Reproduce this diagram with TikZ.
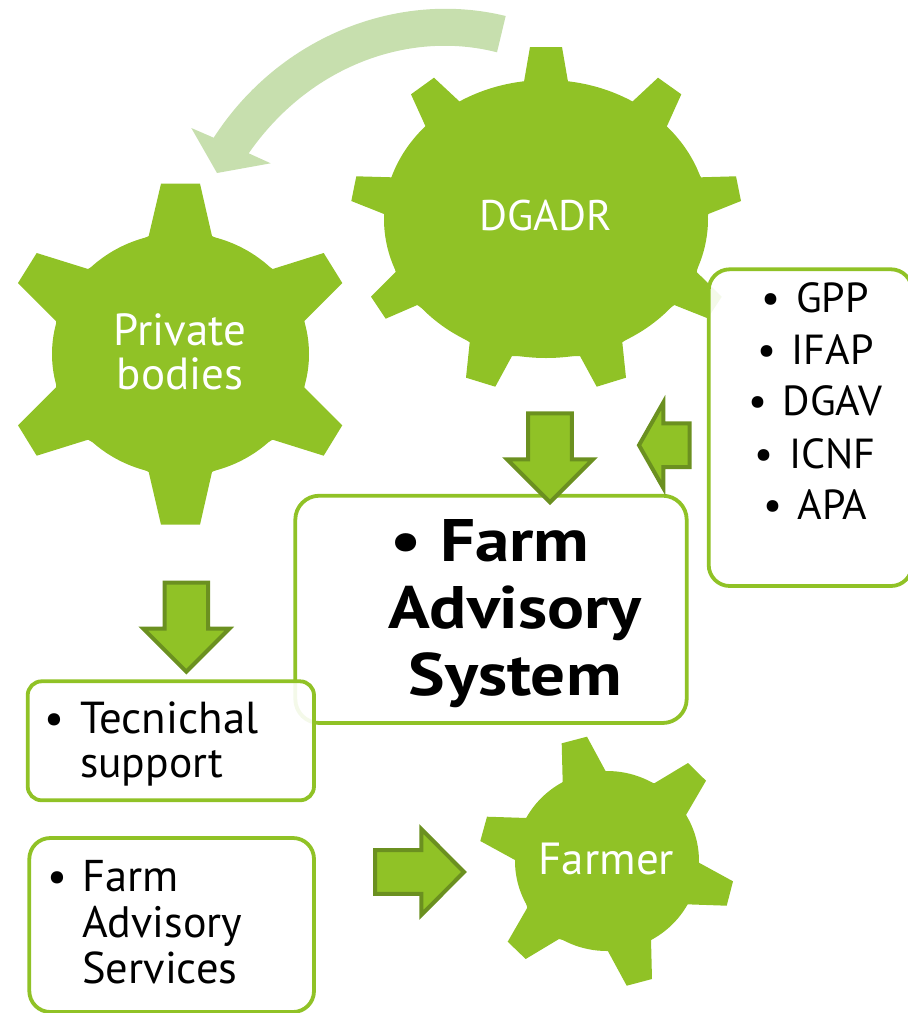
\documentclass[tikz,border=0pt]{standalone}
\usepackage{fontspec}
\setmainfont{PT Sans}
\newfontfamily\wideboldfont[FakeStretch=1.15,BoldFont={PT Sans Bold}]{PT Sans Bold}
\definecolor{leaf}{HTML}{90C226}
\definecolor{leafdark}{HTML}{6B9020}
\definecolor{leafpale}{HTML}{C7DFAE}
\tikzset{
  gearfill/.style={fill=leaf,draw=none},
  blockarrow/.style={fill=leaf,draw=leafdark,line width=4pt,miter limit=12,line join=miter},
  panel/.style={draw=leaf,line width=3.8pt,fill=white,fill opacity=.9,inner sep=0pt,rectangle},
  gearlabel/.style={text=white,align=center,inner sep=0pt},
  boxtext/.style={text=black,inner sep=0pt,align=left,anchor=base west}
}
\newcommand{\bul}{\makebox[0pt][c]{\textbullet}}
\begin{document}
\begin{tikzpicture}[x=1pt,y=-1pt]
\path[use as bounding box] (0,0) rectangle (908,1013);
\clip (0,0) rectangle (908,1013);
% curved arrow
\fill[leafpale] (505.7,16)
  .. controls (400,-10) and (280,35) .. (213.7,137.7)
  -- (191.3,128) -- (217,173) -- (270.7,163.3) -- (248.7,153.3)
  .. controls (310,65) and (410,30) .. (497,52.3)
  -- cycle;
% DGADR gear
\fill[gearfill] (546,219) ellipse [x radius=162,y radius=139];
\fill[gearfill] (524,81.7)--(530,47)--(562,47)--(568,81.7)--(632.3,101.7)--(658,77.7)--(681.3,94.3)--(666.7,126.7)
  --(701,177.3)--(736,176.3)--(741,201)--(708.3,214)--(696.7,272)--(721.7,296.7)--(707.7,318.3)--(674.3,305)
  --(622.3,342.3)--(626,377.7)--(596.7,386.7)--(580,356)--(512,356)--(495.3,386.7)--(466,377.7)--(469.7,342.3)
  --(417.3,305)--(385.7,318.7)--(371,296.7)--(395.7,272)--(384,214)--(351.3,201)--(356.3,176.3)--(391.7,177.3)
  --(425.7,126.7)--(411,94.3)--(434,77.7)--(459.7,101.7)--cycle;
% Private gear
\fill[gearfill] (180.5,354) ellipse [x radius=128.5,y radius=121];
\fill[gearfill] (148.7,236)--(161,183.7)--(200,183.7)--(212,236)--(272.7,269)--(323.7,253)--(342.3,283)--(304.3,321)
  --(304.3,387.3)--(342.3,425.3)--(323.7,455.7)--(272.7,439.7)--(212,472)--(200,524.7)--(161,524.7)--(148.7,472)
  --(88,439.7)--(36.7,455.7)--(18,425.3)--(56,387.3)--(56,321)--(18,283)--(36.7,253)--(88,269)--cycle;
% Farmer gear
\fill[gearfill] (607,861) ellipse [x radius=92,y radius=90];
\fill[gearfill] (562.7,782.7)--(561.7,743.3)--(587,736.7)--(605.7,771.3)--(654.3,783.3)--(688,763)--(706,780.7)--(686,815)
  --(699,862.7)--(733,881.3)--(726.7,905.7)--(686.7,904.3)--(651,939)--(652,979)--(626.7,985.7)--(607.7,950.7)
  --(559,939)--(525.7,959)--(507.7,941.7)--(527.3,907.7)--(515,860)--(480.3,841)--(487,816.7)--(527,818)--cycle;
% gear labels
\node[gearlabel,anchor=base] (dgadr) at (546,230.5) {\fontsize{42.8}{44}\selectfont DGADR};
\node[gearlabel,anchor=base] (priv1) at (180,345.5) {\fontsize{45}{44}\selectfont Private};
\node[gearlabel,anchor=base] (priv2) at (180,389) {\fontsize{45}{44}\selectfont bodies};
\node[gearlabel,anchor=base] (farmer) at (606.5,874.5) {\fontsize{45}{44}\selectfont Farmer};
% panels
\node[panel,minimum width=391.4pt,minimum height=227.3pt,rounded corners=24pt] (fas) at (491,609.35) {};
\node[panel,minimum width=203.3pt,minimum height=316.7pt,rounded corners=21pt] (gov) at (810.35,427.65) {};
\node[panel,minimum width=286.3pt,minimum height=119pt,rounded corners=14pt] (tech) at (170.85,740.8) {};
\node[panel,minimum width=284.7pt,minimum height=174pt,rounded corners=21pt] (fserv) at (171.65,925) {};
% block arrows
\draw[blockarrow] (528.2,413.3)--(571.8,413.3)--(571.8,459.3)--(593,459.3)--(550,502.3)--(507,459.3)--(528.2,459.3)--cycle;
\draw[blockarrow] (164.5,582.7)--(208.1,582.7)--(208.1,628.7)--(229.3,628.7)--(186.3,671.7)--(143.3,628.7)--(164.5,628.7)--cycle;
\draw[blockarrow] (689.7,423.4)--(689.7,467)--(663.3,467)--(663.3,487.9)--(639,445.2)--(663.3,402.5)--(663.3,423.4)--cycle;
\draw[blockarrow] (375,850.2)--(421.3,850.2)--(421.3,829)--(464,872)--(421.3,915)--(421.3,893.8)--(375,893.8)--cycle;
% panel texts
\node[text=black,inner sep=0pt,anchor=base] (fasa) at (515,561.5) {\fontsize{60}{60}\wideboldfont\llap{\bul\hspace{34pt}}Farm};
\node[text=black,inner sep=0pt,anchor=base] (fasb) at (515,628.5) {\fontsize{60}{60}\wideboldfont Advisory};
\node[text=black,inner sep=0pt,anchor=base] (fasc) at (515,695) {\fontsize{60}{60}\wideboldfont System};
\foreach \nm/\lbl/\yy in {g1/GPP/312,g2/IFAP/364,g3/DGAV/415.5,g4/ICNF/468,g5/APA/519}{
  \node[text=black,inner sep=0pt,anchor=base] (\nm) at (832.5,\yy) {\fontsize{42}{44}\selectfont\llap{\bul\hspace{25pt}}\lbl};
}
\node[boxtext] (t0) at (54,733.5) {\fontsize{44}{44}\selectfont\bul};
\node[boxtext] (t1) at (80,733.5) {\fontsize{44.8}{44}\selectfont Tecnichal};
\node[boxtext] (t2) at (80,777.7) {\fontsize{43.5}{44}\selectfont support};
\node[boxtext] (s0) at (57,891.5) {\fontsize{44}{44}\selectfont\bul};
\node[boxtext] (s1) at (82,891.5) {\fontsize{44.5}{44}\selectfont Farm};
\node[boxtext] (s2) at (82,937.5) {\fontsize{44}{44}\selectfont Advisory};
\node[boxtext] (s3) at (82,983.5) {\fontsize{44.5}{44}\selectfont Services};
\end{tikzpicture}
\end{document}
